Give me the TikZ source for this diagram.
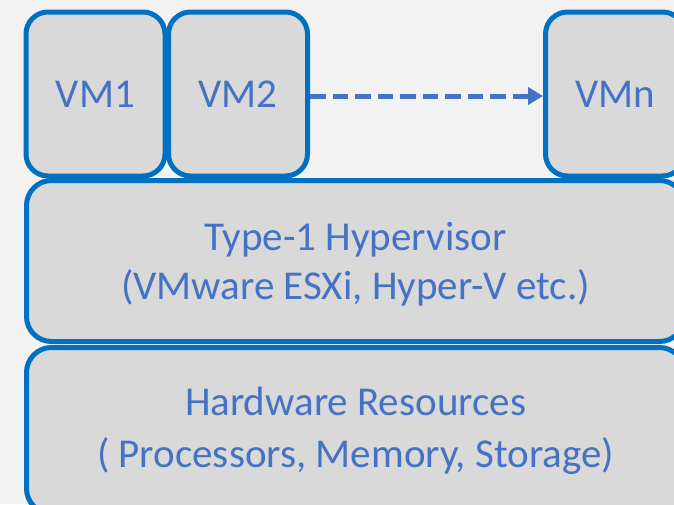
\documentclass[tikz,border=0pt]{standalone}
\usepackage{fontspec}
\setmainfont{Carlito}
\usetikzlibrary{arrows.meta}
\usetikzlibrary{positioning}
\definecolor{vmborder}{HTML}{0070C0}
\definecolor{vmfill}{HTML}{D9D9D9}
\definecolor{vmtext}{HTML}{4472C4}
\definecolor{bgcolor}{HTML}{F2F2F2}

\begin{document}
\begin{tikzpicture}[
            x=1pt, y=-1pt,
            layer/.style={draw=vmborder, fill=vmfill, line width=5pt,
            rounded corners=25pt, text=vmtext, align=center, inner sep=0pt,
            font=\fontsize{41}{49}\selectfont},
            vmbox/.style={layer, minimum width=139pt, minimum height=164pt,
            rounded corners=22pt},
            layertext/.style={text=vmtext, align=center, inner sep=0pt,
            font=\fontsize{41}{49}\selectfont},
            dasharrow/.style={draw=vmtext, line width=5pt,
            dash pattern=on 15.5pt off 7pt, -{Triangle[length=15pt, width=17pt]}}
        ]
            % Fondo y marco
            \fill[bgcolor] (0,0) rectangle (674,504);
            \useasboundingbox (0,0) rectangle (674,504);
            \clip (0,0) rectangle (674,504);

            % Capas inferiores
            \node[layer, minimum width=658pt, minimum height=166pt, anchor=north west,
                font=\fontsize{41}{52}\selectfont]
                (hardware) at (24,345) {Hardware Resources\\( Processors, Memory, Storage)};
            \node[layer, minimum width=658pt, minimum height=161pt, anchor=north west]
                (hypervisor) at (24,178) {};
            \node[layertext, yshift=-3.5pt] (hyperlabel) at (hypervisor)
                {Type-1 Hypervisor\\(VMware ESXi, Hyper-V etc.)};

            % Maquinas virtuales
            \node[vmbox, anchor=north west] (vmone) at (23.5,9.5) {\raisebox{-4pt}{VM1}};
            \node[vmbox, anchor=north west] (vmtwo) at (166,9.5) {\raisebox{-2pt}{VM2}};
            \node[vmbox, anchor=north west] (vmn) at (543,9.5) {\raisebox{-1pt}{VMn}};

            % Flecha discontinua
            \draw[dasharrow] ([yshift=-2pt]vmtwo.east) -- ([yshift=-2pt]vmn.west);

        \end{tikzpicture}
\end{document}
